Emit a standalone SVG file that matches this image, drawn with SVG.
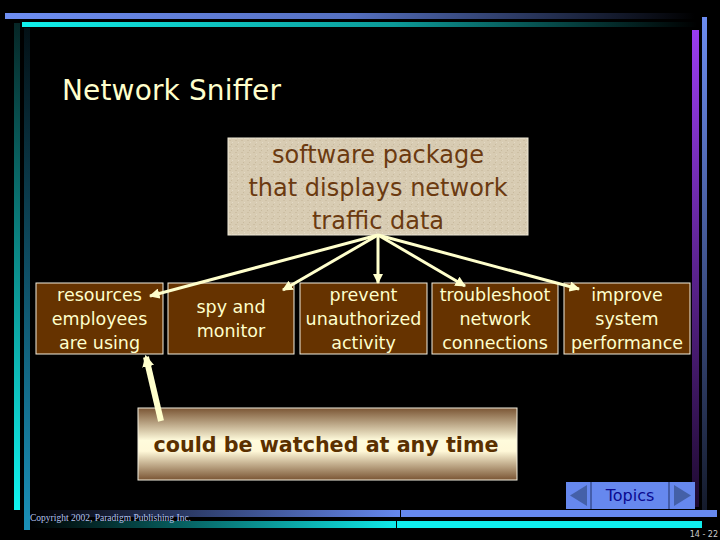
<svg xmlns="http://www.w3.org/2000/svg" width="720" height="540" viewBox="0 0 720 540">
<defs>
<linearGradient id="gTopBlue" x1="0" y1="0" x2="1" y2="0"><stop offset="0" stop-color="#6e8ef2"/><stop offset="0.5" stop-color="#5570c0"/><stop offset="1" stop-color="#000000"/></linearGradient>
<linearGradient id="gTopCyan" x1="0" y1="0" x2="1" y2="0"><stop offset="0" stop-color="#10f0ec"/><stop offset="0.55" stop-color="#0c9a98"/><stop offset="1" stop-color="#000000"/></linearGradient>
<linearGradient id="gLeft1" x1="0" y1="0" x2="0" y2="1"><stop offset="0" stop-color="#062626"/><stop offset="1" stop-color="#10f4f0"/></linearGradient>
<linearGradient id="gLeft2" x1="0" y1="0" x2="0" y2="1"><stop offset="0" stop-color="#031015"/><stop offset="1" stop-color="#1a90b8"/></linearGradient>
<linearGradient id="gRightBlue" x1="0" y1="0" x2="0" y2="1"><stop offset="0" stop-color="#6c8cf0"/><stop offset="1" stop-color="#141a2a"/></linearGradient>
<linearGradient id="gRightPurple" x1="0" y1="0" x2="0" y2="1"><stop offset="0" stop-color="#9a3cf0"/><stop offset="1" stop-color="#1e0a30"/></linearGradient>
<linearGradient id="gBotBlue" x1="0" y1="0" x2="1" y2="0"><stop offset="0" stop-color="#000000"/><stop offset="1" stop-color="#6688ee"/></linearGradient>
<linearGradient id="gBotCyan" x1="0" y1="0" x2="1" y2="0"><stop offset="0" stop-color="#000000"/><stop offset="1" stop-color="#10e8e8"/></linearGradient>
<linearGradient id="gWatch" x1="0" y1="0" x2="0" y2="1"><stop offset="0" stop-color="#7a5534"/><stop offset="0.45" stop-color="#fffbdc"/><stop offset="0.6" stop-color="#fff8d8"/><stop offset="1" stop-color="#7a5534"/></linearGradient>
<pattern id="texture" width="6" height="6" patternUnits="userSpaceOnUse"><rect width="6" height="6" fill="#d8ccb3"/><rect x="1" y="2" width="2" height="1" fill="#cdbfa4"/><rect x="4" y="4" width="1" height="1" fill="#e4dac6"/><rect x="3" y="0" width="1" height="1" fill="#c8ba9e"/></pattern>
<marker id="ah" viewBox="0 0 10 10" refX="9" refY="5" markerWidth="3.5" markerHeight="3.5" orient="auto" markerUnits="strokeWidth"><path d="M0,0 L10,5 L0,10 z" fill="#ffffcc"/></marker>
<marker id="ahBig" viewBox="0 0 10 10" refX="8" refY="5" markerWidth="2" markerHeight="2" orient="auto" markerUnits="strokeWidth"><path d="M0,0 L10,5 L0,10 z" fill="#ffffcc"/></marker>
</defs>
<style>
.node rect.b{fill:#663300;stroke:#f4f0e0;stroke-width:1}
.lbl{font-family:"DejaVu Sans",sans-serif;font-size:17.5px;fill:#ffffcc;text-anchor:middle}
.conn{stroke:#ffffcc;stroke-width:3;fill:none}
</style>
<rect width="720" height="540" fill="#000"/>
<g id="frame">
<rect x="5" y="13" width="690" height="6" fill="url(#gTopBlue)"/>
<rect x="22" y="22" width="675" height="5" fill="url(#gTopCyan)"/>
<rect x="14" y="23" width="6" height="487" fill="url(#gLeft1)"/>
<rect x="24" y="28" width="6" height="502" fill="url(#gLeft2)"/>
<rect x="702" y="17" width="5" height="495" fill="url(#gRightBlue)"/>
<rect x="692" y="30" width="7" height="477" fill="url(#gRightPurple)"/>
<rect x="30" y="510" width="370" height="7" fill="url(#gBotBlue)"/>
<rect x="401" y="510" width="316" height="7" fill="#6688ee"/>
<rect x="30" y="521" width="366" height="7" fill="url(#gBotCyan)"/>
<rect x="397" y="521" width="305" height="7" fill="#10ecec"/>
</g>
<text x="62" y="100" font-family="'DejaVu Sans',sans-serif" font-size="28" fill="#ffffcc" textLength="219">Network Sniffer</text>
<g id="root">
<rect x="228" y="138" width="300" height="97" fill="url(#texture)" stroke="#f0ead8" stroke-width="1"/>
<g font-family="'DejaVu Sans',sans-serif" font-size="24" fill="#6b3a10" text-anchor="middle">
<text x="378" y="163">software package</text>
<text x="378" y="196">that displays network</text>
<text x="378" y="229">traffic data</text>
</g>
</g>
<g id="n1" class="node"><rect class="b" x="36" y="283" width="127" height="71"/>
<text class="lbl" x="99.5" y="301">resources</text><text class="lbl" x="99.5" y="325">employees</text><text class="lbl" x="99.5" y="349">are using</text></g>
<g id="n2" class="node"><rect class="b" x="168" y="283" width="126" height="71"/>
<text class="lbl" x="231" y="313">spy and</text><text class="lbl" x="231" y="337">monitor</text></g>
<g id="n3" class="node"><rect class="b" x="300" y="283" width="127" height="71"/>
<text class="lbl" x="363.5" y="301">prevent</text><text class="lbl" x="363.5" y="325">unauthorized</text><text class="lbl" x="363.5" y="349">activity</text></g>
<g id="n4" class="node"><rect class="b" x="432" y="283" width="126" height="71"/>
<text class="lbl" x="495" y="301">troubleshoot</text><text class="lbl" x="495" y="325">network</text><text class="lbl" x="495" y="349">connections</text></g>
<g id="n5" class="node"><rect class="b" x="564" y="283" width="126" height="71"/>
<text class="lbl" x="627" y="301">improve</text><text class="lbl" x="627" y="325">system</text><text class="lbl" x="627" y="349">performance</text></g>
<g id="n6"><rect x="138" y="408" width="379" height="72" fill="url(#gWatch)" stroke="#f4f0e0" stroke-width="1"/>
<text x="326" y="452" font-family="'Comic Sans MS','DejaVu Sans',sans-serif" font-weight="bold" font-size="21" fill="#5a3000" text-anchor="middle" textLength="345" lengthAdjust="spacingAndGlyphs">could be watched at any time</text></g>
<g id="connectors">
<line class="conn" x1="378" y1="235" x2="150" y2="296" marker-end="url(#ah)"/>
<line class="conn" x1="378" y1="235" x2="283" y2="290" marker-end="url(#ah)"/>
<line class="conn" x1="378" y1="235" x2="378" y2="283" marker-end="url(#ah)"/>
<line class="conn" x1="378" y1="235" x2="465" y2="286" marker-end="url(#ah)"/>
<line class="conn" x1="378" y1="235" x2="579" y2="289" marker-end="url(#ah)"/>
<line x1="161" y1="421" x2="146" y2="357" stroke="#ffffcc" stroke-width="6" marker-end="url(#ahBig)"/>
</g>
<g id="topics">
<rect x="566" y="482" width="129" height="27" fill="#6688ee"/>
<line x1="591" y1="482" x2="591" y2="509" stroke="#223366" stroke-width="1"/>
<line x1="669" y1="482" x2="669" y2="509" stroke="#223366" stroke-width="1"/>
<path d="M570,495.5 L587,485 L587,506 z" fill="#4460a8"/>
<path d="M691,495.5 L674,485 L674,506 z" fill="#4460a8"/>
<text x="630" y="501" font-family="'DejaVu Sans',sans-serif" font-size="16" fill="#0a0a90" text-anchor="middle">Topics</text>
</g>
<text x="30" y="521" font-family="'Liberation Serif',serif" font-size="9.5" fill="#b4c4f0">Copyright 2002, Paradigm Publishing Inc.</text>
<text x="718" y="537" font-family="'DejaVu Sans',sans-serif" font-size="8" fill="#cccccc" text-anchor="end">14 - 22</text>
</svg>
